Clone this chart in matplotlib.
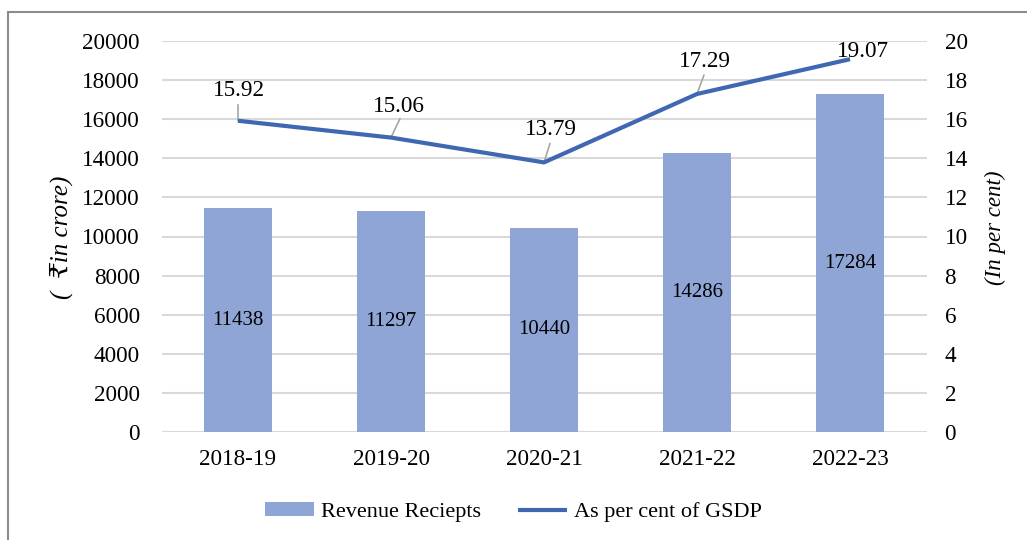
import matplotlib
matplotlib.use("Agg")
import matplotlib.pyplot as plt
from matplotlib.lines import Line2D

years = ["2018-19", "2019-20", "2020-21", "2021-22", "2022-23"]
revenue = [11438, 11297, 10440, 14286, 17284]
gsdp_pct = [15.92, 15.06, 13.79, 17.29, 19.07]
left_ticks = [0, 2000, 4000, 6000, 8000, 10000, 12000, 14000, 16000, 18000, 20000]
right_ticks = [0, 2, 4, 6, 8, 10, 12, 14, 16, 18, 20]

plt.rcParams['font.family'] = ['Liberation Serif', 'DejaVu Serif', 'DejaVu Sans']

W, H = 1027, 540
fig = plt.figure(figsize=(W / 100, H / 100), dpi=100)
ax = fig.add_axes([161.5 / W, 1 - 432 / H, (926.5 - 161.5) / W, (432 - 41) / H])
ax2 = ax.twinx()

bar_color = '#8FA5D5'
line_color = '#4068B2'
grid_color = '#D9D9D9'
leader_color = '#A6A6A6'

x = list(range(len(years)))
bars = ax.bar(x, revenue, width=0.45, color=bar_color, zorder=2, label='Revenue Reciepts')
ax.set_ylim(0, 20000)
ax.set_xlim(-0.5, len(years) - 0.5)
ax.set_yticks(left_ticks)
ax.set_xticks(x)
ax.set_xticklabels(years)
ax.yaxis.grid(True, color=grid_color, linewidth=1.5, zorder=0)
ax.set_axisbelow(True)
for s in list(ax.spines.values()) + list(ax2.spines.values()):
    s.set_visible(False)
ax.tick_params(axis='y', length=0, pad=15.5, labelsize=16.7)
ax.tick_params(axis='x', length=0, pad=12, labelsize=16.7)

for xi, v in zip(x, revenue):
    ax.text(xi, v / 2, str(v), ha='center', va='center', fontsize=15, zorder=3)

line, = ax2.plot(x, gsdp_pct, color=line_color, linewidth=3, zorder=4,
                 solid_capstyle='butt', label='As per cent of GSDP')
ax2.set_ylim(0, 20)
ax2.set_yticks(right_ticks)
ax2.tick_params(axis='y', length=0, pad=13, labelsize=16.7)

# label offsets (pixels, baseline) and leader-line tops (pixels)
label_offsets = [(1, 25), (8, 26), (6.5, 27), (8, 27), (13, 2)]
leader_tops = [(0, 16), (9, 19), (6, 19), (7, 19), None]
for xi, v, (dx, dy), lt in zip(x, gsdp_pct, label_offsets, leader_tops):
    ax2.annotate(f"{v:.2f}", xy=(xi, v), xytext=(dx, dy), textcoords='offset pixels',
                 ha='center', va='baseline', fontsize=16.7, zorder=5)
    if lt is not None:
        ax2.annotate("", xy=(xi, v), xytext=lt, textcoords='offset pixels',
                     arrowprops=dict(arrowstyle='-', color=leader_color, lw=1.2,
                                     shrinkA=0, shrinkB=0), zorder=3)

fig.text(61 / W, 1 - 237 / H, '(  ₹in crore)', rotation=90, ha='center', va='center',
         fontsize=18, style='italic')
fig.text(995 / W, 1 - 228 / H, '(In per cent)', rotation=90, ha='center', va='center',
         fontsize=16.5, style='italic')

fig.legend(handles=[bars, line], labels=['Revenue Reciepts', 'As per cent of GSDP'],
           loc='center', bbox_to_anchor=(0.5, 1 - 512 / H), ncol=2, frameon=False,
           fontsize=16, handlelength=2.2, handleheight=0.6, columnspacing=1.7,
           handletextpad=0.3)

border = '#8C8C8C'
fig.add_artist(Line2D([8 / W, 8 / W], [0, 1 - 12 / H], transform=fig.transFigure,
                      color=border, linewidth=1.5))
fig.add_artist(Line2D([8 / W, 1], [1 - 12 / H, 1 - 12 / H], transform=fig.transFigure,
                      color=border, linewidth=1.5))

fig.savefig('out.png', dpi=100)
